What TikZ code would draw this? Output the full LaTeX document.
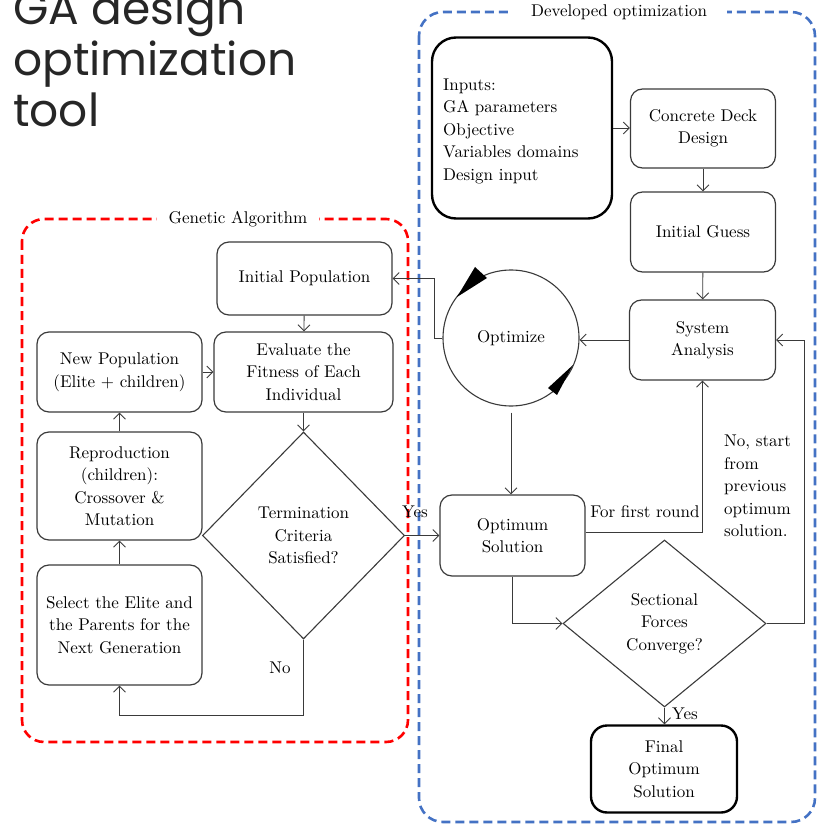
\documentclass[tikz,border=0pt]{standalone}
\usepackage{fontspec}
\setmainfont{lmroman10-regular.otf}
\newfontfamily\titlefont{Poppins}
\usetikzlibrary{arrows.meta,shapes.geometric}
\definecolor{titlegray}{HTML}{262626}
\definecolor{linegray}{HTML}{3A3A3A}
\definecolor{gablue}{HTML}{4472C4}
\begin{document}
\begin{tikzpicture}[x=1pt,y=-1pt,
  every node/.style={font=\fontsize{17}{22.5}\selectfont, text=black},
  box/.style={draw=linegray, line width=1.2pt, rounded corners=12pt, align=center, inner sep=0pt},
  thickbox/.style={draw=black, line width=2.4pt, rounded corners=24pt, align=center, inner sep=0pt},
  dia/.style={diamond, draw=linegray, line width=1.1pt, inner sep=0pt, align=center},
  flow/.style={draw=linegray, line width=0.9pt, -{Straight Barb[length=6pt,width=12pt]}},
  grouplabel/.style={fill=white, inner ysep=2pt},
  titleline/.style={anchor=base west, inner sep=0pt, font=\titlefont\fontsize{45.5}{51}\selectfont, text=titlegray}
]
\useasboundingbox (0,0) rectangle (827,826);

% title
\node[titleline] (t1) at (13,25) {GA design};
\node[titleline] (t2) at (13,76) {optimization};
\node[titleline] (t3) at (13,127) {tool};

% group frames
\draw[red, line width=2.6pt, dash pattern=on 9pt off 5pt, rounded corners=22pt] (22,219) rectangle (408,742);
\draw[gablue, line width=2.6pt, dash pattern=on 9pt off 5pt, rounded corners=24pt] (419,12) rectangle (815,822);
\node[grouplabel, inner xsep=12pt] (galabel) at (238,219) {Genetic Algorithm};
\node[grouplabel, inner xsep=20pt] (devlabel) at (619,12) {Developed optimization};

% developed optimization nodes
\node[thickbox, minimum width=180, minimum height=181] (inputs) at (522,128) {};
\node[align=left, anchor=west, inner sep=0pt] (inputstext) at (443,131) {Inputs:\\GA parameters\\Objective\\Variables domains\\Design input};
\node[box, minimum width=145, minimum height=79] (concrete) at (703,128.5) {Concrete Deck\\Design};
\node[box, minimum width=145, minimum height=80] (guess) at (703,232) {Initial Guess};
\node[box, minimum width=146, minimum height=80] (sys) at (702.5,340) {System\\Analysis};
\node[circle, draw=linegray, line width=1.1pt, minimum size=136, inner sep=0pt] (opt) at (511,338) {Optimize};
\fill[black] (475,267) -- (487,278) -- (457,297) -- cycle;
\fill[black] (573,365) -- (548,388) -- (557,395) -- cycle;
\node[box, minimum width=145, minimum height=81] (optsol) at (512.5,535.5) {Optimum\\Solution};
\node[dia, minimum width=203, minimum height=167] (sect) at (664.5,623.5) {Sectional\\Forces\\Converge?};
\node[thickbox, rounded corners=16pt, minimum width=146, minimum height=87] (final) at (664,769) {Final\\Optimum\\Solution};

% genetic algorithm nodes
\node[box, minimum width=175, minimum height=73] (initpop) at (304.5,278.5) {Initial Population};
\node[box, minimum width=179, minimum height=80] (eval) at (303.5,372) {Evaluate the\\Fitness of Each\\Individual};
\node[box, minimum width=165, minimum height=80] (newpop) at (119.5,372) {New Population\\(Elite + children)};
\node[box, minimum width=165, minimum height=108] (repro) at (119.5,486) {Reproduction\\(children):\\Crossover \&\\Mutation};
\node[box, minimum width=165, minimum height=120] (select) at (119.5,625) {Select the Elite and\\the Parents for the\\Next Generation};
\node[dia, minimum width=202, minimum height=207] (term) at (303.5,535.5) {Termination\\Criteria\\Satisfied?};

% connectors: developed optimization
\draw[flow] (inputs.east) -- (inputs.east -| concrete.west);
\draw[flow] (concrete) -- (guess);
\draw[flow] (guess) -- (sys);
\draw[flow] (sys.west) -- (sys.west -| opt.east);
\draw[flow] (opt.west) -- ++(-8,0) |- (initpop.east);
\draw[flow] ([yshift=-6pt]opt.south) -- (opt.south |- optsol.north);
\draw[flow] ([yshift=3pt]optsol.east) -| (sys.south);
\node (firstround) at (645,512) {For first round};
\draw[flow] (optsol.south) |- (sect.west);
\draw[flow] (sect.east) -- ++(38,0) |- (sys.east);
\node[align=left, anchor=west, inner sep=0pt] (nostart) at (724,486) {No, start\\from\\previous\\optimum\\solution.};
\draw[flow] (sect.south) -- (sect.south |- final.north);
\node (yes2) at (685,714) {Yes};

% connectors: genetic algorithm
\draw[flow] (initpop) -- (eval);
\draw[flow] (eval) -- (term);
\draw[flow] (term.east) -- (term.east -| optsol.west);
\node (yes1) at (415,512) {Yes};
\draw[flow] (term.south) -- ++(0,76) coordinate (nocorner) -| (select.south);
\node (no) at (280,668) {No};
\draw[flow] (select) -- (repro);
\draw[flow] (repro) -- (newpop);
\draw[flow] (newpop) -- (eval);
\end{tikzpicture}
\end{document}
